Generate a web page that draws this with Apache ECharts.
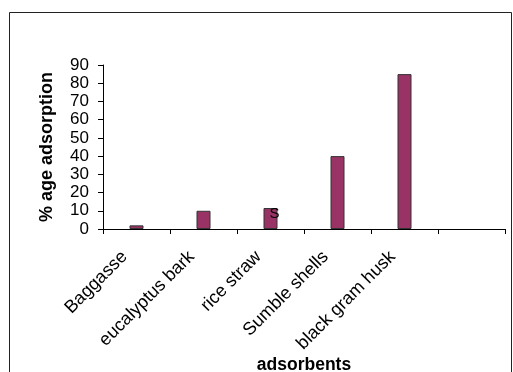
<!DOCTYPE html>
<html>
<head>
<meta charset="utf-8">
<script src="https://cdn.jsdelivr.net/npm/echarts@6/dist/echarts.min.js"></script>
<style>html,body{margin:0;padding:0;background:#fff;}#c{width:513px;height:372px;}</style>
</head>
<body>
<div id="c"></div>
<script>
const categories = ['Baggasse', 'eucalyptus bark', 'rice straw', 'Sumble shells', 'black gram husk', ''];
const adsorption = [2, 10, 11.5, 40, 85, null];
const yTicks = { min: 0, max: 90, interval: 10 };
const xTitle = 'adsorbents';
const yTitle = '% age adsorption';
const strayLabel = { index: 2, text: 'S' };

const font = 'Liberation Sans, Arial, sans-serif';
const chart = echarts.init(document.getElementById('c'), null, { renderer: 'canvas' });
const data = adsorption.map((v, i) => i === strayLabel.index ? {
  value: v,
  label: { show: true, position: 'insideTop', formatter: strayLabel.text, offset: [4, -7], color: '#000', fontSize: 15, fontFamily: font }
} : v);

chart.setOption({
  animation: false,
  backgroundColor: '#fff',
  graphic: [{
    type: 'rect',
    shape: { x: 9.5, y: 12.5, width: 502, height: 420 },
    style: { fill: 'none', stroke: '#222', lineWidth: 1 },
    silent: true
  }],
  grid: { left: 103, right: 8, top: 65, bottom: 143, containLabel: false, outerBoundsMode: 'none' },
  xAxis: {
    type: 'category',
    data: categories,
    boundaryGap: true,
    name: xTitle,
    nameLocation: 'middle',
    nameGap: 125,
    nameTextStyle: { fontFamily: font, fontSize: 17.5, fontWeight: 'bold', color: '#000' },
    axisLine: { lineStyle: { color: '#000', width: 1 } },
    axisTick: { show: true, alignWithLabel: false, length: 5, lineStyle: { color: '#000' } },
    axisLabel: { rotate: 45, interval: 0, margin: 13, padding: [0, 17, 0, 0], fontFamily: font, fontSize: 18, color: '#000' },
    splitLine: { show: false }
  },
  yAxis: {
    type: 'value',
    min: yTicks.min, max: yTicks.max, interval: yTicks.interval,
    name: yTitle,
    nameLocation: 'middle',
    nameGap: 47,
    nameRotate: 90,
    nameTextStyle: { fontFamily: font, fontSize: 18, fontWeight: 'bold', color: '#000' },
    axisLine: { show: true, lineStyle: { color: '#000', width: 1 } },
    axisTick: { show: true, length: 5, lineStyle: { color: '#000' } },
    axisLabel: { fontFamily: font, fontSize: 17, color: '#000', margin: 14 },
    splitLine: { show: false }
  },
  series: [{
    type: 'bar',
    data: data,
    barWidth: 14,
    itemStyle: { color: '#993366', borderColor: '#333', borderWidth: 1 },
    label: { show: false }
  }]
});
</script>
</body>
</html>
